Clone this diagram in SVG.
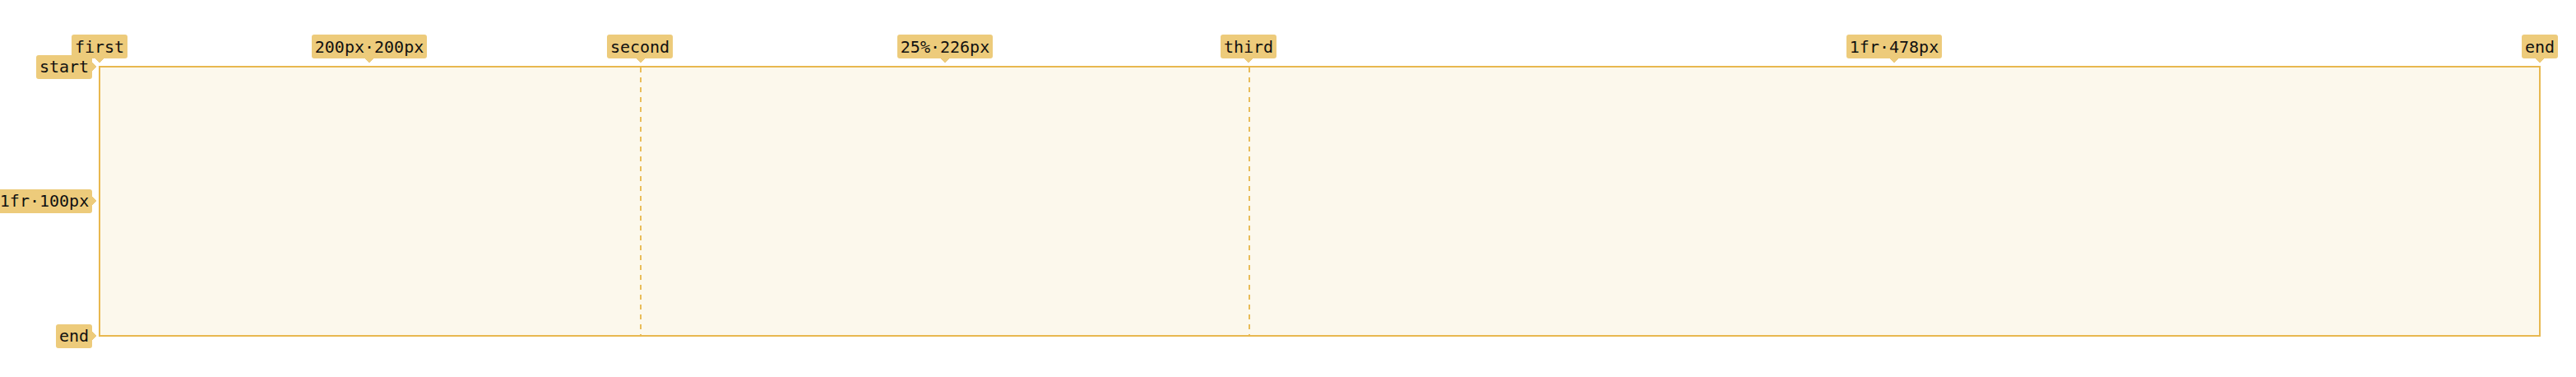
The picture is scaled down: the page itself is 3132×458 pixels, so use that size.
<svg xmlns="http://www.w3.org/2000/svg" width="3132" height="458" viewBox="0 0 3132 458">
<style>
.lbl{fill:#EDCB7B}
.txt{font-family:"DejaVu Sans Mono",monospace;font-size:20px;fill:#111;text-anchor:middle;dominant-baseline:central}
.ptr{fill:#EDCB7B;stroke:#fff;stroke-width:1}
.dash{stroke:#E9BC58;stroke-width:2;stroke-dasharray:6,6}
</style>
<rect width="3132" height="458" fill="#fff"/>
<g id="grid">
<rect x="121" y="81" width="2967" height="327" fill="#FCF8EC" stroke="#E8B84F" stroke-width="2"/>
</g>
<g id="connectors">
<line class="dash" x1="779" y1="82" x2="779" y2="407"/>
<line class="dash" x1="1519" y1="82" x2="1519" y2="407"/>
</g>
<g id="label-first"><path class="ptr" d="M115,71 L121,77 L127,71"/><rect class="lbl" x="87" y="42" width="68" height="29" rx="3"/><text class="txt" x="121" y="57">first</text></g>
<g id="label-200px"><path class="ptr" d="M443,71 L449,77 L455,71"/><rect class="lbl" x="379" y="42" width="140" height="29" rx="3"/><text class="txt" x="449" y="57">200px·200px</text></g>
<g id="label-second"><path class="ptr" d="M773,71 L779,77 L785,71"/><rect class="lbl" x="738" y="42" width="80" height="29" rx="3"/><text class="txt" x="778" y="57">second</text></g>
<g id="label-25pct"><path class="ptr" d="M1143,71 L1149,77 L1155,71"/><rect class="lbl" x="1091" y="42" width="116" height="29" rx="3"/><text class="txt" x="1149" y="57">25%·226px</text></g>
<g id="label-third"><path class="ptr" d="M1512,71 L1518,77 L1524,71"/><rect class="lbl" x="1484" y="42" width="68" height="29" rx="3"/><text class="txt" x="1518" y="57">third</text></g>
<g id="label-1fr478"><path class="ptr" d="M2297,71 L2303,77 L2309,71"/><rect class="lbl" x="2245" y="42" width="116" height="29" rx="3"/><text class="txt" x="2303" y="57">1fr·478px</text></g>
<g id="label-end-col"><path class="ptr" d="M3082,71 L3088,77 L3094,71"/><rect class="lbl" x="3066" y="42" width="44" height="29" rx="3"/><text class="txt" x="3088" y="57">end</text></g>
<g id="label-start"><path class="ptr" d="M112,75 L118,81 L112,87"/><rect class="lbl" x="44" y="67" width="68" height="29" rx="3"/><text class="txt" x="78" y="81">start</text></g>
<g id="label-1fr100"><path class="ptr" d="M112,238 L118,244 L112,250"/><rect class="lbl" x="-4" y="230" width="116" height="29" rx="3"/><text class="txt" x="54" y="244">1fr·100px</text></g>
<g id="label-end-row"><path class="ptr" d="M112,402 L118,408 L112,414"/><rect class="lbl" x="68" y="394" width="44" height="29" rx="3"/><text class="txt" x="90" y="408">end</text></g>
</svg>
